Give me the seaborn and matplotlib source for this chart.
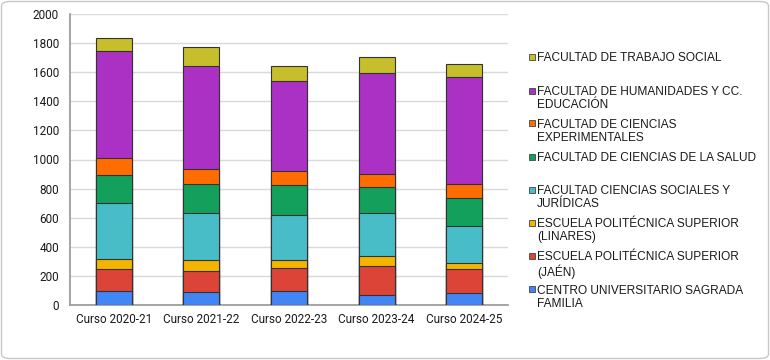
import matplotlib
matplotlib.use("Agg")
import matplotlib.pyplot as plt
import seaborn as sns
import pandas as pd
import numpy as np
from matplotlib.patches import FancyBboxPatch, Rectangle

courses = ["Curso 2020-21", "Curso 2021-22", "Curso 2022-23", "Curso 2023-24", "Curso 2024-25"]

# bottom to top
sagrada = [96, 91, 96, 71, 80]
jaen = [150, 144, 157, 198, 166]
linares = [73, 73, 55, 71, 44]
sociales = [385, 326, 308, 290, 253]
salud = [192, 199, 212, 180, 194]
experimentales = [114, 105, 96, 91, 96]
humanidades = [735, 703, 613, 691, 734]
trabajo = [87, 130, 103, 112, 87]

series_names = [
    "CENTRO UNIVERSITARIO SAGRADA\nFAMILIA",
    "ESCUELA POLITÉCNICA SUPERIOR\n(JAÉN)",
    "ESCUELA POLITÉCNICA SUPERIOR\n(LINARES)",
    "FACULTAD CIENCIAS SOCIALES Y\nJURÍDICAS",
    "FACULTAD DE CIENCIAS DE LA SALUD",
    "FACULTAD DE CIENCIAS\nEXPERIMENTALES",
    "FACULTAD DE HUMANIDADES Y CC.\nEDUCACIÓN",
    "FACULTAD DE TRABAJO SOCIAL",
]
series_values = [sagrada, jaen, linares, sociales, salud, experimentales, humanidades, trabajo]
colors = ["#4285F4", "#DB4437", "#F4B400", "#48BDC7", "#12A05C", "#FF6D01", "#AB30C4", "#C6BE2A"]

sns.set_theme(style="white")
plt.rcParams["font.family"] = ["Roboto", "DejaVu Sans"]

fig = plt.figure(figsize=(7.7, 3.6), dpi=100)
ax = fig.add_axes([70 / 770, 55 / 360, 438 / 770, 291 / 360])

cum = np.cumsum(np.array(series_values), axis=0)
for i in range(len(series_values) - 1, -1, -1):
    df = pd.DataFrame({"course": courses, "value": cum[i]})
    sns.barplot(data=df, x="course", y="value", color=colors[i], width=0.41,
                edgecolor="#333333", linewidth=0.8, saturation=1, ax=ax, zorder=3)

ax.set_ylim(0, 2000)
ax.set_yticks(range(0, 2001, 200))
ax.set_xlabel("")
ax.set_ylabel("")
ax.yaxis.grid(True, color="#d9d9d9", linewidth=1, zorder=0)
ax.set_axisbelow(True)
for s in ["top", "right"]:
    ax.spines[s].set_visible(False)
ax.spines["left"].set_color("#9a9a9a")
ax.spines["bottom"].set_color("#9a9a9a")
ax.tick_params(axis="y", length=0, pad=8, labelsize=8.5, labelcolor="#1a1a1a")
ax.tick_params(axis="x", length=0, pad=6, labelsize=8.5, labelcolor="#1a1a1a")
ax.set_xlim(-0.5, 4.5)

# legend drawn manually (top entry first)
first_line_centers = [56.7, 90.7, 123.3, 156.7, 190, 222.7, 256, 289.3]
order = list(range(len(series_names) - 1, -1, -1))
W, H = 770, 360
for slot, i in enumerate(order):
    yc = first_line_centers[slot]
    fig.patches.append(Rectangle(((529) / W, 1 - (yc + 3) / H), 6 / W, 6 / H,
                                 transform=fig.transFigure, facecolor=colors[i],
                                 edgecolor="#444444", linewidth=0.6))
    fig.text(537 / W, 1 - (yc - 4.5) / H, series_names[i], ha="left", va="top",
             fontsize=8.6, family=["Liberation Sans", "DejaVu Sans"], color="#1a1a1a",
             linespacing=1.1)

border = FancyBboxPatch((1.5 / W, 1.5 / H), 767 / W, 357 / H,
                        boxstyle="round,pad=0,rounding_size=0.012",
                        transform=fig.transFigure, facecolor="none",
                        edgecolor="#c8c8c8", linewidth=1.0)
fig.patches.append(border)

fig.savefig("out.png", dpi=100)
